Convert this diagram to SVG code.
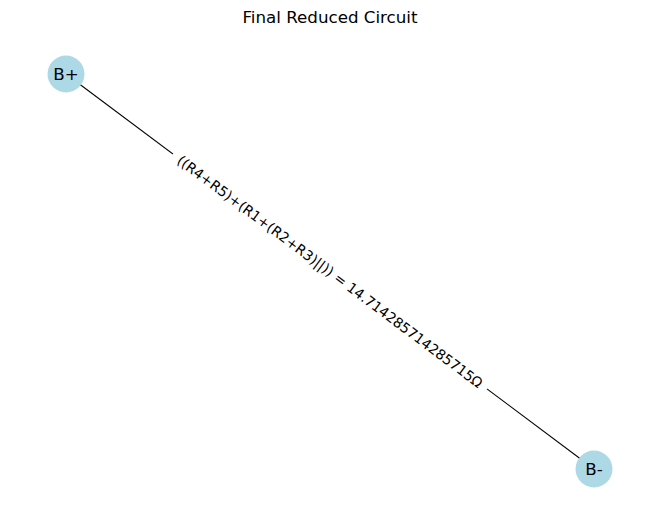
<svg xmlns="http://www.w3.org/2000/svg" width="660" height="522" viewBox="0 0 660 522">
<style>
.node circle{fill:#add8e6;stroke:none}
.node text{font-family:"DejaVu Sans",sans-serif;font-size:16.7px;fill:#000;text-anchor:middle;dominant-baseline:central}
.edge{stroke:#000;stroke-width:1.1;fill:none}
.elabel{font-family:"DejaVu Sans",sans-serif;font-size:13.9px;fill:#000;text-anchor:middle;dominant-baseline:central}
.title{font-family:"DejaVu Sans",sans-serif;font-size:16.7px;fill:#000;text-anchor:middle}
</style>
<rect width="660" height="522" fill="#fff"/>
<text class="title" x="330" y="23">Final Reduced Circuit</text>
<g id="connectors">
<line class="edge" x1="66" y1="74" x2="594" y2="469"/>
<g transform="translate(330,271.5) rotate(36.8)">
<rect x="-196" y="-10" width="392" height="20" fill="#fff"/>
<text class="elabel" x="0" y="0">((R4+R5)+(R1+(R2+R3)||)) = 14.714285714285715Ω</text>
</g>
</g>
<g id="node-bplus" class="node">
<circle cx="66" cy="74" r="18.5"/>
<text x="66" y="74">B+</text>
</g>
<g id="node-bminus" class="node">
<circle cx="594" cy="469" r="18.5"/>
<text x="594" y="469">B-</text>
</g>
</svg>
